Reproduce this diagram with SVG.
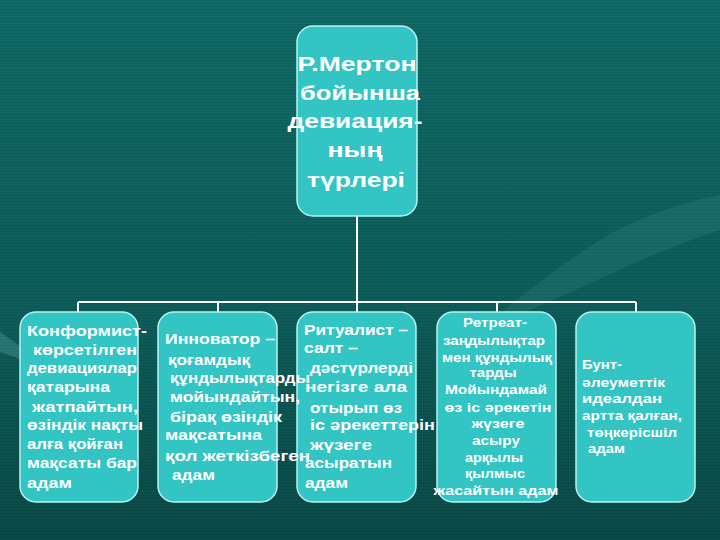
<svg xmlns="http://www.w3.org/2000/svg" width="720" height="540" viewBox="0 0 720 540">
  <defs>
    <linearGradient id="bg" x1="0" y1="0" x2="0" y2="1">
      <stop offset="0" stop-color="#106a67"/>
      <stop offset="0.6" stop-color="#0d5c59"/>
      <stop offset="1" stop-color="#0a4a48"/>
    </linearGradient>
    <pattern id="scan" width="4" height="3" patternUnits="userSpaceOnUse">
      <rect width="4" height="1" fill="#000" opacity="0.08"/>
    </pattern>
    <style>
      .box { fill: #33c4c4; stroke: #b8f2f2; stroke-width: 1.5; }
      .conn { stroke: #ffffff; stroke-width: 2; fill: none; }
      text { fill: #ffffff; font-family: "Liberation Sans", Arial, sans-serif; font-weight: bold; }
      .title { font-size: 21px; text-anchor: middle; }
      .t14 { font-size: 14.5px; }
      .t12 { font-size: 12.5px; }
      .mid { text-anchor: middle; }
    </style>
  </defs>

  <rect width="720" height="540" fill="url(#bg)"/>
  <rect width="720" height="540" fill="url(#scan)"/>
  <!-- faint decorative shapes -->
  <path d="M600 240 C630 222 670 205 720 195 L720 230 C690 240 650 255 615 272 C570 292 520 315 470 338 C510 305 560 265 600 240 Z" fill="#5fb0aa" opacity="0.14"/>
  <path d="M0 332 C18 344 34 356 50 372 C34 364 18 358 0 352 Z" fill="#8fd6d0" opacity="0.22"/>

  <g id="connectors">
    <path class="conn" d="M357 216 V302"/>
    <path class="conn" d="M78 302 H636"/>
    <path class="conn" d="M78 302 V312 M218 302 V312 M357 302 V312 M497 302 V312 M636 302 V312"/>
  </g>

  <g id="root">
    <rect class="box" x="297" y="26" width="120" height="190" rx="16"/>
    <text class="title" x="357" y="71" textLength="119" lengthAdjust="spacingAndGlyphs">Р.Мертон</text>
    <text class="title" x="360" y="100" textLength="120" lengthAdjust="spacingAndGlyphs">бойынша</text>
    <text class="title" x="355" y="128" textLength="135" lengthAdjust="spacingAndGlyphs">девиация-</text>
    <text class="title" x="355" y="157" textLength="55" lengthAdjust="spacingAndGlyphs">ның</text>
    <text class="title" x="356" y="187" textLength="98" lengthAdjust="spacingAndGlyphs">түрлері</text>
  </g>

  <g id="conformist">
    <rect class="box" x="20" y="312" width="118" height="190" rx="16"/>
    <text class="t14" x="27" y="336" textLength="120" lengthAdjust="spacingAndGlyphs">Конформист-</text>
    <text class="t14" x="33" y="355" textLength="104" lengthAdjust="spacingAndGlyphs">көрсетілген</text>
    <text class="t14" x="27" y="373" textLength="110" lengthAdjust="spacingAndGlyphs">девиациялар</text>
    <text class="t14" x="27" y="392" textLength="83" lengthAdjust="spacingAndGlyphs">қатарына</text>
    <text class="t14" x="32" y="412" textLength="106" lengthAdjust="spacingAndGlyphs">жатпайтын,</text>
    <text class="t14" x="27" y="430" textLength="116" lengthAdjust="spacingAndGlyphs">өзіндік нақты</text>
    <text class="t14" x="27" y="449" textLength="96" lengthAdjust="spacingAndGlyphs">алға қойған</text>
    <text class="t14" x="27" y="468" textLength="110" lengthAdjust="spacingAndGlyphs">мақсаты бар</text>
    <text class="t14" x="27" y="488" textLength="45" lengthAdjust="spacingAndGlyphs">адам</text>
  </g>

  <g id="ritualist">
    <rect class="box" x="297" y="312" width="119" height="190" rx="16"/>
    <text class="t14" x="304" y="335" textLength="104" lengthAdjust="spacingAndGlyphs">Ритуалист –</text>
    <text class="t14" x="304" y="353" textLength="54" lengthAdjust="spacingAndGlyphs">салт –</text>
    <text class="t14" x="310" y="373" textLength="103" lengthAdjust="spacingAndGlyphs">дәстүрлерді</text>
    <text class="t14" x="305" y="392" textLength="102" lengthAdjust="spacingAndGlyphs">негізге ала</text>
    <text class="t14" x="310" y="413" textLength="92" lengthAdjust="spacingAndGlyphs">отырып өз</text>
    <text class="t14" x="310" y="430" textLength="125" lengthAdjust="spacingAndGlyphs">іс әрекеттерін</text>
    <text class="t14" x="310" y="450" textLength="62" lengthAdjust="spacingAndGlyphs">жүзеге</text>
    <text class="t14" x="305" y="468" textLength="87" lengthAdjust="spacingAndGlyphs">асыратын</text>
    <text class="t14" x="305" y="488" textLength="43" lengthAdjust="spacingAndGlyphs">адам</text>
  </g>

  <g id="innovator">
    <rect class="box" x="158" y="312" width="119" height="190" rx="16"/>
    <text class="t14" x="165" y="344" textLength="110" lengthAdjust="spacingAndGlyphs">Инноватор –</text>
    <text class="t14" x="168" y="365" textLength="82" lengthAdjust="spacingAndGlyphs">қоғамдық</text>
    <text class="t14" x="170" y="383" textLength="140" lengthAdjust="spacingAndGlyphs">құндылықтарды</text>
    <text class="t14" x="170" y="402" textLength="130" lengthAdjust="spacingAndGlyphs">мойындайтын,</text>
    <text class="t14" x="170" y="422" textLength="112" lengthAdjust="spacingAndGlyphs">бірақ өзіндік</text>
    <text class="t14" x="165" y="440" textLength="97" lengthAdjust="spacingAndGlyphs">мақсатына</text>
    <text class="t14" x="165" y="461" textLength="145" lengthAdjust="spacingAndGlyphs">қол жеткізбеген</text>
    <text class="t14" x="172" y="480" textLength="43" lengthAdjust="spacingAndGlyphs">адам</text>
  </g>

  <g id="retreatist">
    <rect class="box" x="437" y="312" width="119" height="190" rx="16"/>
    <text class="t12 mid" x="495" y="327" textLength="64" lengthAdjust="spacingAndGlyphs">Ретреат-</text>
    <text class="t12 mid" x="494" y="345" textLength="102" lengthAdjust="spacingAndGlyphs">заңдылықтар</text>
    <text class="t12 mid" x="497" y="362" textLength="110" lengthAdjust="spacingAndGlyphs">мен құндылық</text>
    <text class="t12 mid" x="493" y="377" textLength="47" lengthAdjust="spacingAndGlyphs">тарды</text>
    <text class="t12 mid" x="496" y="394" textLength="102" lengthAdjust="spacingAndGlyphs">Мойындамай</text>
    <text class="t12 mid" x="498" y="412" textLength="107" lengthAdjust="spacingAndGlyphs">өз іс әрекетін</text>
    <text class="t12 mid" x="498" y="428" textLength="53" lengthAdjust="spacingAndGlyphs">жүзеге</text>
    <text class="t12 mid" x="496" y="445" textLength="48" lengthAdjust="spacingAndGlyphs">асыру</text>
    <text class="t12 mid" x="494" y="462" textLength="58" lengthAdjust="spacingAndGlyphs">арқылы</text>
    <text class="t12 mid" x="495" y="478" textLength="60" lengthAdjust="spacingAndGlyphs">қылмыс</text>
    <text class="t12 mid" x="496" y="495" textLength="125" lengthAdjust="spacingAndGlyphs">жасайтын адам</text>
  </g>

  <g id="rebel">
    <rect class="box" x="576" y="312" width="119" height="190" rx="16"/>
    <text class="t12" x="582" y="369" textLength="40" lengthAdjust="spacingAndGlyphs">Бунт-</text>
    <text class="t12" x="582" y="387" textLength="83" lengthAdjust="spacingAndGlyphs">әлеуметтік</text>
    <text class="t12" x="582" y="403" textLength="80" lengthAdjust="spacingAndGlyphs">идеалдан</text>
    <text class="t12" x="582" y="420" textLength="100" lengthAdjust="spacingAndGlyphs">артта қалған,</text>
    <text class="t12" x="587" y="437" textLength="90" lengthAdjust="spacingAndGlyphs">төңкерісшіл</text>
    <text class="t12" x="588" y="453" textLength="37" lengthAdjust="spacingAndGlyphs">адам</text>
  </g>
</svg>
